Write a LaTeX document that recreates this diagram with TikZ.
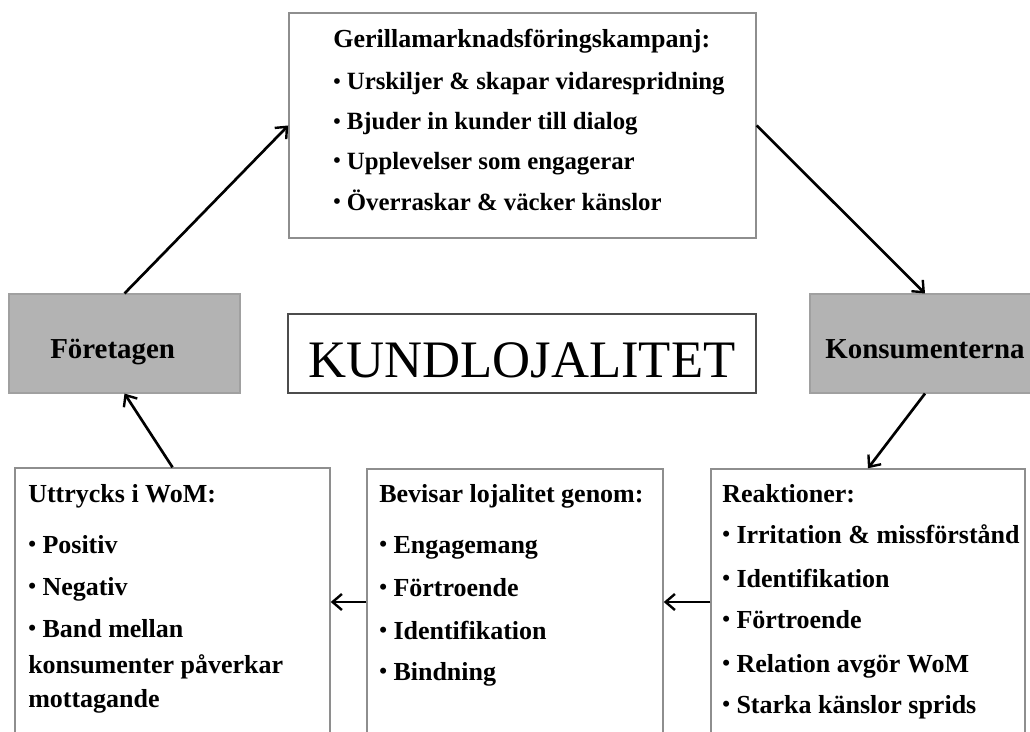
\documentclass[tikz,border=0pt]{standalone}
\usepackage{fontspec}
\setmainfont{Liberation Serif}
\usetikzlibrary{arrows.meta}
\definecolor{boxline}{HTML}{8E8E8E}
\definecolor{graybox}{HTML}{B3B3B3}
\definecolor{grayline}{HTML}{A0A0A0}
\newcommand\bul{\raisebox{0.05em}{\scalebox{0.85}{•}}}
\tikzset{
  wbox/.style={draw=boxline, line width=1.1pt, fill=white, inner sep=0pt},
  gbox/.style={draw=grayline, line width=0.8pt, fill=graybox, inner sep=0pt},
  txt/.style={anchor=base west, inner sep=0pt, font=\fontsize{19.5}{23}\selectfont\bfseries},
  txts/.style={anchor=base west, inner sep=0pt, font=\fontsize{18.6}{22}\selectfont\bfseries},
  big/.style={anchor=base west, inner sep=0pt, font=\fontsize{21.7}{26}\selectfont\bfseries},
  conn/.style={draw=black, line width=2pt, -{Straight Barb[length=7pt,width=12pt,line width=1.8pt]}}
}
\begin{document}
\begin{tikzpicture}[x=0.75pt,y=-0.75pt]
\useasboundingbox (0,0) rectangle (1030,731);
% boxes
\node[wbox, minimum width=350.25pt, minimum height=168.75pt] (top) at (522.5,125.5) {};
\node[gbox, minimum width=173.25pt, minimum height=74.25pt] (for) at (124.5,343.5) {};
\node[gbox, minimum width=172.5pt, minimum height=74.25pt] (kon) at (925,343.5) {};
\node[draw=black!70, line width=1pt, inner sep=0pt, minimum width=351pt, minimum height=59.25pt] (kund) at (522,353.5) {};
\node[wbox, minimum width=236.25pt, minimum height=201pt] (wom) at (172.5,602) {};
\node[wbox, minimum width=222pt, minimum height=199.5pt] (bev) at (515,602) {};
\node[wbox, minimum width=235.5pt, minimum height=199.5pt] (rea) at (868,602) {};
% texts
\node[txt] (t0) at (333,48) {Gerillamarknadsföringskampanj:};
\node[txts] (t1) at (333,90) {\bul\ Urskiljer \& skapar vidarespridning};
\node[txts] (t2) at (333,130) {\bul\ Bjuder in kunder till dialog};
\node[txts] (t3) at (333,169) {\bul\ Upplevelser som engagerar};
\node[txts] (t4) at (333,210) {\bul\ Överraskar \& väcker känslor};
\node[big] (f0) at (50,358) {Företagen};
\node[big] (k0) at (825,358) {Konsumenterna};
\node[anchor=base, inner sep=0pt, font=\fontsize{39.5}{44}\selectfont] (kt) at (522,377) {KUNDLOJALITET};
\node[txt] (w0) at (28,502) {Uttrycks i WoM:};
\node[txt] (w1) at (28,553) {\bul\ Positiv};
\node[txt] (w2) at (28,595) {\bul\ Negativ};
\node[txt] (w3) at (28,637) {\bul\ Band mellan};
\node[txt] (w4) at (28,673) {konsumenter påverkar};
\node[txt] (w5) at (28,707) {mottagande};
\node[txt] (b0) at (379,502) {Bevisar lojalitet genom:};
\node[txt] (b1) at (379,553) {\bul\ Engagemang};
\node[txt] (b2) at (379,596) {\bul\ Förtroende};
\node[txt] (b3) at (379,639) {\bul\ Identifikation};
\node[txt] (b4) at (379,680) {\bul\ Bindning};
\node[txt] (r0) at (722,502) {Reaktioner:};
\node[txt] (r1) at (722,543) {\bul\ Irritation \& missförstånd};
\node[txt] (r2) at (722,587) {\bul\ Identifikation};
\node[txt] (r3) at (722,628) {\bul\ Förtroende};
\node[txt] (r4) at (722,672) {\bul\ Relation avgör WoM};
\node[txt] (r5) at (722,713) {\bul\ Starka känslor sprids};
% connectors
\draw[conn] (for.north) -- (top.west);
\draw[conn] (top.east) -- (kon.north);
\draw[conn] (kon.south) -- (rea.north);
\draw[conn] (rea.west) -- (bev.east);
\draw[conn] (bev.west) -- (wom.east);
\draw[conn] (wom.north) -- (for.south);
\end{tikzpicture}
\end{document}
